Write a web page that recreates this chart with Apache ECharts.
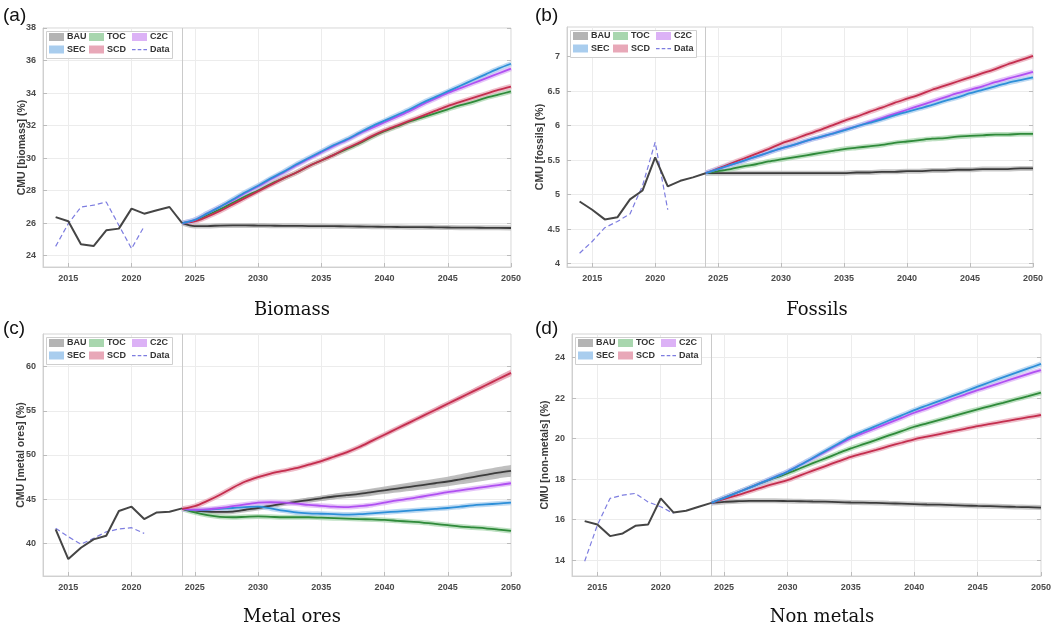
<!DOCTYPE html>
<html><head><meta charset="utf-8">
<script src="https://cdn.jsdelivr.net/npm/echarts@6/dist/echarts.min.js"></script>
<style>html,body{margin:0;padding:0;background:#fff}#c{width:1056px;height:630px}</style>
</head><body><div id="c"></div>
<script>
// ---------- categories / years ----------
const categories = ['2013','2014','2015','2016','2017','2018','2019','2020','2021','2022','2023','2024','2025','2026','2027','2028','2029','2030','2031','2032','2033','2034','2035','2036','2037','2038','2039','2040','2041','2042','2043','2044','2045','2046','2047','2048','2049','2050'];
const histYears = ['2014','2015','2016','2017','2018','2019','2020','2021','2022','2023','2024'];
const dataYears = ['2014','2015','2016','2017','2018','2019','2020','2021'];
const projYears = ['2024','2025','2026','2027','2028','2029','2030','2031','2032','2033','2034','2035','2036','2037','2038','2039','2040','2041','2042','2043','2044','2045','2046','2047','2048','2049','2050'];

// ---------- (a) Biomass ----------
const biomassHist = [26.37,26.11,24.70,24.59,25.56,25.66,26.89,26.58,26.79,26.99,26.0];
const biomassData = [24.57,25.97,26.99,27.1,27.3,25.86,24.43,25.8];
const biomassBAU = [26.0,25.82,25.82,25.85,25.86,25.86,25.85,25.84,25.83,25.83,25.82,25.82,25.81,25.8,25.79,25.78,25.77,25.76,25.75,25.75,25.74,25.73,25.72,25.72,25.71,25.71,25.7];
const biomassTOC = [26.0,26.15,26.5,26.85,27.25,27.65,28.0,28.4,28.75,29.1,29.5,29.85,30.2,30.55,30.9,31.3,31.65,31.95,32.25,32.5,32.75,33.0,33.25,33.45,33.7,33.9,34.1];
const biomassC2C = [26.0,26.2,26.6,27.0,27.4,27.85,28.25,28.7,29.1,29.55,29.95,30.35,30.75,31.1,31.5,31.85,32.2,32.55,32.9,33.3,33.65,34.0,34.3,34.6,34.9,35.2,35.5];
const biomassSEC = [26.0,26.2,26.6,27.0,27.45,27.9,28.3,28.75,29.15,29.6,30.0,30.4,30.8,31.15,31.55,31.95,32.3,32.65,33.0,33.4,33.75,34.1,34.45,34.8,35.15,35.5,35.8];
const biomassSCD = [26.0,26.1,26.4,26.75,27.15,27.55,27.95,28.35,28.75,29.1,29.5,29.85,30.2,30.6,30.95,31.35,31.7,32.0,32.3,32.6,32.9,33.2,33.45,33.7,33.95,34.2,34.4];
const biomassTicks = [24,26,28,30,32,34,36,38];

// ---------- (b) Fossils ----------
const fossilsHist = [4.90,4.78,4.64,4.67,4.93,5.06,5.54,5.12,5.20,5.25,5.31];
const fossilsData = [4.15,4.32,4.52,4.61,4.72,5.13,5.76,4.78];
const fossilsBAU = [5.31,5.31,5.31,5.31,5.31,5.31,5.31,5.31,5.31,5.31,5.31,5.31,5.32,5.32,5.33,5.33,5.34,5.34,5.35,5.35,5.36,5.36,5.37,5.37,5.37,5.38,5.38];
const fossilsTOC = [5.31,5.34,5.37,5.41,5.44,5.48,5.51,5.54,5.57,5.60,5.63,5.66,5.68,5.70,5.72,5.75,5.77,5.79,5.81,5.82,5.84,5.85,5.86,5.87,5.87,5.88,5.88];
const fossilsC2C = [5.31,5.37,5.43,5.49,5.55,5.61,5.67,5.72,5.78,5.83,5.88,5.94,5.99,6.05,6.11,6.17,6.23,6.29,6.35,6.41,6.47,6.52,6.57,6.63,6.68,6.73,6.78];
const fossilsSEC = [5.31,5.37,5.43,5.49,5.55,5.61,5.67,5.72,5.78,5.83,5.88,5.93,5.99,6.04,6.09,6.15,6.20,6.25,6.30,6.36,6.41,6.47,6.52,6.57,6.62,6.66,6.70];
const fossilsSCD = [5.31,5.38,5.45,5.52,5.59,5.66,5.74,5.80,5.87,5.93,6.00,6.07,6.13,6.20,6.26,6.33,6.39,6.45,6.52,6.58,6.64,6.70,6.76,6.82,6.89,6.95,7.01];
const fossilsTicks = [4,4.5,5,5.5,6,6.5,7];

// ---------- (c) Metal ores ----------
const metalHist = [41.59,38.22,39.5,40.45,40.86,43.66,44.15,42.75,43.5,43.58,43.96];
const metalData = [41.7,40.75,39.9,40.57,41.3,41.62,41.77,41.13];
const metalBAU = [43.9,43.7,43.6,43.55,43.6,43.8,44.0,44.25,44.5,44.7,44.9,45.1,45.3,45.45,45.6,45.8,46.0,46.2,46.4,46.6,46.8,47.0,47.25,47.5,47.75,48.0,48.2];
const metalTOC = [43.9,43.5,43.2,43.0,42.95,43.0,43.05,43.0,42.95,42.95,42.95,42.9,42.85,42.8,42.75,42.7,42.65,42.55,42.45,42.35,42.2,42.05,41.9,41.8,41.7,41.55,41.4];
const metalC2C = [43.9,43.8,43.85,44.0,44.2,44.4,44.6,44.65,44.6,44.5,44.35,44.25,44.15,44.1,44.2,44.35,44.6,44.85,45.05,45.3,45.55,45.8,46.0,46.2,46.4,46.6,46.8];
const metalSEC = [43.9,43.75,43.8,43.9,44.0,44.1,44.15,43.95,43.7,43.5,43.4,43.35,43.3,43.25,43.3,43.4,43.5,43.6,43.7,43.8,43.9,44.0,44.15,44.3,44.4,44.5,44.6];
const metalSCD = [43.9,44.2,44.8,45.5,46.3,47.0,47.5,47.9,48.2,48.5,48.9,49.3,49.8,50.3,50.9,51.6,52.3,53.0,53.7,54.4,55.1,55.8,56.5,57.2,57.9,58.6,59.3];
const metalBAUWidth = [0,0.1,0.15,0.2,0.25,0.3,0.35,0.4,0.45,0.5,0.55,0.6,0.65,0.7,0.75,0.8,0.85,0.9,0.95,1.0,1.05,1.1,1.15,1.2,1.25,1.3,1.35];
const metalSCDWidth = [0,0.05,0.1,0.1,0.15,0.15,0.2,0.2,0.25,0.25,0.3,0.3,0.35,0.35,0.4,0.4,0.45,0.45,0.5,0.5,0.55,0.55,0.6,0.6,0.65,0.7,0.75];
const metalTicks = [40,45,50,55,60];

// ---------- (d) Non metals ----------
const nonmetalHist = [15.93,15.76,15.19,15.32,15.70,15.76,17.05,16.36,16.44,16.64,16.83];
const nonmetalData = [13.95,15.73,17.05,17.21,17.3,16.88,16.64,16.31];
const nonmetalBAU = [16.83,16.88,16.91,16.93,16.93,16.93,16.92,16.91,16.9,16.89,16.87,16.85,16.84,16.83,16.81,16.79,16.77,16.75,16.74,16.72,16.7,16.68,16.67,16.65,16.63,16.62,16.6];
const nonmetalTOC = [16.83,17.08,17.33,17.58,17.83,18.06,18.29,18.54,18.79,19.03,19.28,19.52,19.73,19.94,20.16,20.37,20.59,20.76,20.93,21.1,21.28,21.45,21.61,21.77,21.94,22.1,22.27];
const nonmetalC2C = [16.83,17.08,17.33,17.58,17.84,18.1,18.37,18.7,19.03,19.36,19.7,20.02,20.28,20.53,20.78,21.03,21.28,21.5,21.73,21.96,22.18,22.4,22.6,22.8,23.0,23.2,23.39];
const nonmetalSEC = [16.83,17.08,17.33,17.58,17.84,18.1,18.37,18.7,19.05,19.4,19.75,20.1,20.37,20.63,20.9,21.15,21.41,21.64,21.87,22.1,22.33,22.57,22.8,23.03,23.25,23.47,23.69];
const nonmetalSCD = [16.83,17.02,17.2,17.4,17.6,17.78,17.95,18.19,18.42,18.65,18.88,19.1,19.28,19.45,19.63,19.8,19.97,20.1,20.23,20.36,20.49,20.62,20.73,20.84,20.95,21.06,21.17];
const nonmetalTicks = [14,16,18,20,22,24];

// ---------- styling ----------
const lineColors = {BAU:'#3c3c3c', TOC:'#2f8a3a', C2C:'#b050f2', SEC:'#2d8fd8', SCD:'#c42e4e'};
const bandColors = {BAU:'#b4b4b4', TOC:'#a8d6ae', C2C:'#dcb2f6', SEC:'#a9cdee', SCD:'#e8a8b8'};
const dataColor = '#7d7de0';
const FONT = 'Liberation Sans, Arial, sans-serif';
const dashIcon = 'path://M0,0M15,8M0,3.4h3.6v1.3h-3.6zM5.7,3.4h3.6v1.3h-3.6zM11.4,3.4h3.6v1.3h-3.6z';

const panels = [
  {label:'(a)', title:'Biomass', cx:292, nameGap:15, yName:'CMU [biomass] (%)', grid:{left:43, top:28, width:468, height:239}, min:23.3, max:38, ticks:biomassTicks,
   hist:biomassHist, data:biomassData, s:{BAU:biomassBAU, TOC:biomassTOC, SCD:biomassSCD, C2C:biomassC2C, SEC:biomassSEC}, bands:{}},
  {label:'(b)', title:'Fossils', cx:817, nameGap:21, yName:'CMU [fossils] (%)', grid:{left:567, top:27, width:466, height:240}, min:3.95, max:7.43, ticks:fossilsTicks,
   hist:fossilsHist, data:fossilsData, s:{BAU:fossilsBAU, TOC:fossilsTOC, SCD:fossilsSCD, C2C:fossilsC2C, SEC:fossilsSEC}, bands:{}},
  {label:'(c)', title:'Metal ores', cx:292, nameGap:16, yName:'CMU [metal ores] (%)', grid:{left:43, top:334, width:468, height:242}, min:36.3, max:63.7, ticks:metalTicks,
   hist:metalHist, data:metalData, s:{BAU:metalBAU, TOC:metalTOC, SEC:metalSEC, C2C:metalC2C, SCD:metalSCD}, bands:{BAU:metalBAUWidth, SCD:metalSCDWidth}},
  {label:'(d)', title:'Non metals', cx:822, nameGap:21, yName:'CMU [non-metals] (%)', grid:{left:572, top:334, width:469, height:242}, min:13.22, max:25.17, ticks:nonmetalTicks,
   hist:nonmetalHist, data:nonmetalData, s:{BAU:nonmetalBAU, SCD:nonmetalSCD, TOC:nonmetalTOC, C2C:nonmetalC2C, SEC:nonmetalSEC}, bands:{}}
];

const zip = (xs, ys) => xs.map((x, k) => [x, ys[k]]);
const every5 = (idx, val) => Number(val) % 5 === 0;

const grids = [], xAxes = [], yAxes = [], rightAxes = [], series = [], legends = [], graphics = [];

panels.forEach((p, i) => {
  grids.push(Object.assign({show:true, borderColor:'#d4d4d4', borderWidth:1, backgroundColor:'#fff'}, p.grid));
  xAxes.push({
    type:'category', gridIndex:i, data:categories, boundaryGap:false,
    axisLine:{show:true, lineStyle:{color:'#d0d0d0', width:1}},
    axisTick:{show:true, inside:true, length:4, interval:every5, lineStyle:{color:'#bcbcbc'}},
    axisLabel:{interval:every5, fontSize:9, fontWeight:'bold', color:'#4a4a4a', fontFamily:FONT, margin:7},
    splitLine:{show:true, interval:every5, lineStyle:{color:'#ececec', width:1}}
  });
  yAxes.push({
    type:'value', gridIndex:i, min:p.min, max:p.max,
    name:p.yName, nameLocation:'middle', nameGap:p.nameGap, nameMoveOverlap:false,
    nameTextStyle:{fontSize:10.5, fontWeight:'bold', color:'#3a3a3a', fontFamily:FONT},
    axisLine:{show:true, lineStyle:{color:'#d0d0d0', width:1}},
    axisTick:{show:true, inside:true, length:4, customValues:p.ticks, lineStyle:{color:'#bcbcbc'}},
    axisLabel:{customValues:p.ticks, fontSize:9, fontWeight:'bold', color:'#4a4a4a', fontFamily:FONT, margin:7},
    splitLine:{show:true, lineStyle:{color:'#ececec', width:1}}
  });
  rightAxes.push({
    type:'value', gridIndex:i, min:p.min, max:p.max, position:'right',
    axisLine:{show:false}, splitLine:{show:false}, axisLabel:{show:false},
    axisTick:{show:true, inside:true, length:4, customValues:p.ticks, lineStyle:{color:'#bcbcbc'}}
  });

  // historical line
  series.push({name:'BAU', type:'line', xAxisIndex:i, yAxisIndex:i, data:zip(histYears, p.hist), symbol:'none',
    lineStyle:{color:'#454545', width:2}, itemStyle:{color:'#454545'}, z:6, silent:true,
    markLine:{silent:true, symbol:'none', z:1, label:{show:false}, lineStyle:{color:'#cacaca', width:1, type:'solid'}, data:[{xAxis:'2024'}]}});
  // data dashed line
  series.push({name:'Data', type:'line', xAxisIndex:i, yAxisIndex:i, data:zip(dataYears, p.data), symbol:'none',
    lineStyle:{color:dataColor, width:1.2, type:[5,3]}, itemStyle:{color:dataColor}, z:5, silent:true});

  // bands (stacked)
  Object.keys(p.bands).forEach(k => {
    const w = p.bands[k], m = p.s[k];
    const lower = m.map((v, j) => +(v - w[j] / 2).toFixed(3));
    series.push({name:k, type:'line', xAxisIndex:i, yAxisIndex:i, stack:'band'+i+k, data:zip(projYears, lower), symbol:'none',
      lineStyle:{opacity:0}, silent:true, z:2, smooth:0.3});
    series.push({name:k, type:'line', xAxisIndex:i, yAxisIndex:i, stack:'band'+i+k, data:zip(projYears, w), symbol:'none',
      lineStyle:{opacity:0}, areaStyle:{color:bandColors[k], opacity:0.85}, silent:true, z:2, smooth:0.3});
  });

  // scenario lines with soft halo
  Object.keys(p.s).forEach(k => {
    series.push({name:k, type:'line', xAxisIndex:i, yAxisIndex:i, data:zip(projYears, p.s[k]), symbol:'none', smooth:0.3,
      lineStyle:{color:bandColors[k], width:5, opacity:0.75}, itemStyle:{color:bandColors[k]}, silent:true, z:3});
    series.push({name:k, type:'line', xAxisIndex:i, yAxisIndex:i, data:zip(projYears, p.s[k]), symbol:'none', smooth:0.3,
      lineStyle:{color:lineColors[k], width:1.8}, itemStyle:{color:lineColors[k]}, silent:true, z:4});
  });

  // legend box + legend items
  const gl = p.grid.left, gt = p.grid.top;
  graphics.push({type:'rect', left:gl + 3, top:gt + 3, z:10, shape:{width:126, height:27},
    style:{fill:'#ffffff', stroke:'#cfcfcf', lineWidth:1}, silent:true});
  const items = [['BAU',0,0],['TOC',1,0],['C2C',2,0],['SEC',0,1],['SCD',1,1],['Data',2,1]];
  const colOff = [6, 46, 89], rowOff = [10.5, 23];
  items.forEach(([nm, c, r]) => {
    const d = nm === 'Data'
      ? {name:nm, icon:dashIcon, itemStyle:{color:dataColor, opacity:1}}
      : {name:nm, icon:'rect', itemStyle:{color:bandColors[nm], opacity:1}};
    legends.push({left:gl + colOff[c], top:gt + rowOff[r] - 6, padding:0, itemWidth:15, itemHeight:8, itemGap:0,
      selectedMode:false, z:20, data:[d],
      textStyle:{fontSize:9, fontWeight:'bold', color:'#333', fontFamily:FONT, padding:[0,0,0,-2]}});
  });

  // panel letter & caption
  const lx = i % 2 === 0 ? 3 : 535;
  const ly = i < 2 ? 17 : 330;
  graphics.push({type:'text', left:lx, top:ly - 11, z:10, style:{text:p.label, font:'19px ' + FONT, fill:'#111'}});
  const cy = i < 2 ? 310 : 617;
  graphics.push({type:'text', x:p.cx, y:cy, z:10, style:{text:p.title, font:'18px "DejaVu Serif", serif', fill:'#111', textAlign:'center', textVerticalAlign:'middle'}});
});

const chart = echarts.init(document.getElementById('c'), null, {renderer:'canvas'});
chart.setOption({
  backgroundColor:'#ffffff',
  animation:false,
  grid:grids, xAxis:xAxes, yAxis:yAxes.concat(rightAxes), series:series, legend:legends, graphic:graphics
});
</script></body></html>
